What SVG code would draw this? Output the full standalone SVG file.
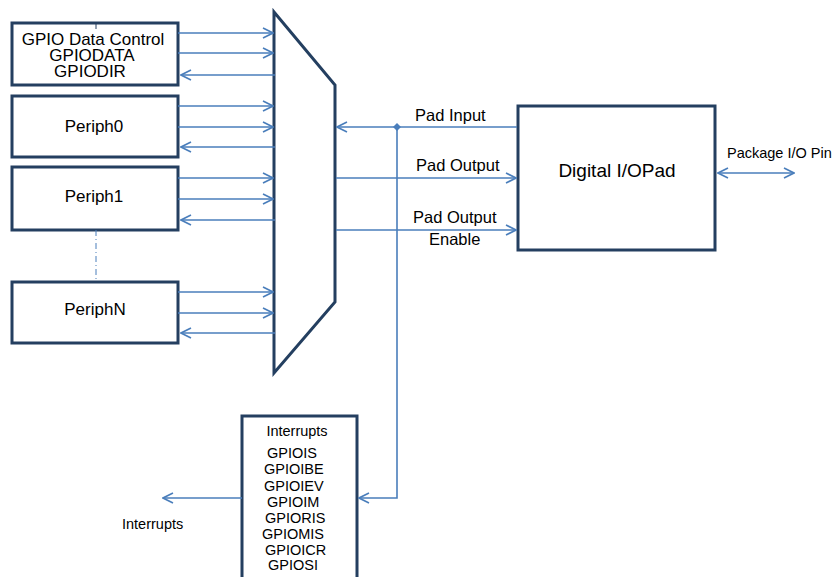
<svg xmlns="http://www.w3.org/2000/svg" width="835" height="577" viewBox="0 0 835 577">
<defs>
<marker id="ah" markerWidth="12" markerHeight="12" viewBox="0 0 12 12" refX="11" refY="6" orient="auto-start-reverse" markerUnits="userSpaceOnUse">
<path d="M1,1 L11,6 L1,11" fill="none" stroke="#4a7ebb" stroke-width="1.6"/>
</marker>
</defs>
<style>
.box{fill:#fff;stroke:#243f60;stroke-width:3}
.ln{fill:none;stroke:#4a7ebb;stroke-width:1.6}
.a{marker-end:url(#ah)}
.t{font-family:"Liberation Sans",Arial,sans-serif;fill:#000}
</style>
<rect width="835" height="577" fill="#fff"/>
<g id="mux"><path d="M274,12 L335,85 L335,302 L274,373 Z" fill="#fff" stroke="#243f60" stroke-width="3" stroke-linejoin="miter"/></g>
<g id="gpio-data-control">
<rect class="box" x="12" y="23" width="166" height="62"/>
<line x1="96" y1="23" x2="96" y2="29" stroke="#243f60" stroke-width="1"/>
<text class="t" x="93" y="45" font-size="17" text-anchor="middle">GPIO Data Control</text>
<text class="t" x="92" y="61" font-size="17" text-anchor="middle">GPIODATA</text>
<text class="t" x="90" y="77" font-size="17" text-anchor="middle">GPIODIR</text>
</g>
<g id="periph0"><rect class="box" x="12" y="96" width="166" height="61"/><text class="t" x="94" y="132" font-size="17" text-anchor="middle">Periph0</text></g>
<g id="periph1"><rect class="box" x="12" y="167" width="166" height="63"/><text class="t" x="94" y="202" font-size="17" text-anchor="middle">Periph1</text></g>
<g id="periphN"><rect class="box" x="12" y="282" width="166" height="61"/><text class="t" x="95" y="315" font-size="17" text-anchor="middle">PeriphN</text></g>
<g id="digital-io-pad"><rect class="box" x="518" y="106" width="197" height="144"/><text class="t" x="617" y="177" font-size="19" text-anchor="middle">Digital I/OPad</text></g>
<g id="interrupts-block">
<rect class="box" x="242" y="416" width="115" height="175"/>
<text class="t" x="297" y="436" font-size="14.5" text-anchor="middle">Interrupts</text>
<text class="t" font-size="14.5">
<tspan x="267" y="458">GPIOIS</tspan>
<tspan x="264" y="474">GPIOIBE</tspan>
<tspan x="264" y="491">GPIOIEV</tspan>
<tspan x="267" y="507">GPIOIM</tspan>
<tspan x="265" y="523">GPIORIS</tspan>
<tspan x="262" y="539">GPIOMIS</tspan>
<tspan x="265" y="555">GPIOICR</tspan>
<tspan x="268" y="570">GPIOSI</tspan>
</text>
</g>
<g id="connectors">
<line class="ln a" x1="178" y1="33" x2="273" y2="33"/>
<line class="ln a" x1="178" y1="53" x2="273" y2="53"/>
<line class="ln a" x1="275" y1="75" x2="181" y2="75"/>
<line class="ln a" x1="178" y1="106" x2="273" y2="106"/>
<line class="ln a" x1="178" y1="127" x2="273" y2="127"/>
<line class="ln a" x1="275" y1="147" x2="181" y2="147"/>
<line class="ln a" x1="178" y1="178" x2="273" y2="178"/>
<line class="ln a" x1="178" y1="199" x2="273" y2="199"/>
<line class="ln a" x1="275" y1="220" x2="181" y2="220"/>
<line class="ln a" x1="178" y1="292" x2="273" y2="292"/>
<line class="ln a" x1="178" y1="313" x2="273" y2="313"/>
<line class="ln a" x1="275" y1="333" x2="181" y2="333"/>
<line x1="96" y1="230" x2="96" y2="282" stroke="#4a7ebb" stroke-width="1" stroke-dasharray="6,3,1,3"/>
<line class="ln a" x1="517" y1="127" x2="337" y2="127"/>
<line class="ln a" x1="336" y1="178" x2="516" y2="178"/>
<line class="ln a" x1="336" y1="230" x2="516" y2="230"/>
<path class="ln a" d="M397,127 L397,498 L359,498"/>
<path d="M397,123 L401,127 L397,131 L393,127 Z" fill="#4a7ebb"/>
<line class="ln a" x1="242" y1="498" x2="163" y2="498"/>
<line class="ln" x1="718" y1="173" x2="794" y2="173" marker-start="url(#ah)" marker-end="url(#ah)"/>
<text class="t" x="415" y="121" font-size="16.5">Pad Input</text>
<text class="t" x="416" y="171" font-size="16.5">Pad Output</text>
<text class="t" x="413" y="223" font-size="16.5">Pad Output</text>
<text class="t" x="429" y="245" font-size="16.5">Enable</text>
<text class="t" x="727" y="158" font-size="14.5">Package I/O Pin</text>
<text class="t" x="122" y="529" font-size="14.5">Interrupts</text>
</g>
</svg>
